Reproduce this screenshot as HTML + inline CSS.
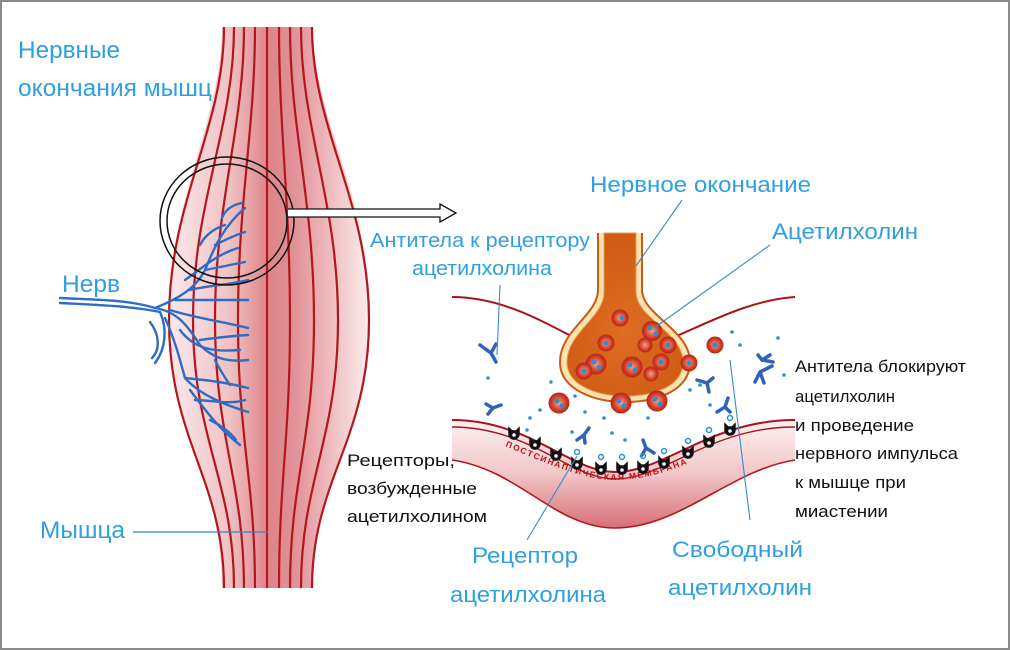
<!DOCTYPE html>
<html><head><meta charset="utf-8"><style>
html,body{margin:0;padding:0;background:#fff}
svg{display:block}
.b{fill:#2e9fe2;font-family:"Liberation Sans Narrow","Liberation Sans",sans-serif}
.k{fill:#111;font-family:"Liberation Sans Narrow","Liberation Sans",sans-serif;font-size:17px}
</style></head><body>
<svg width="1010" height="650" viewBox="0 0 1010 650" xmlns="http://www.w3.org/2000/svg">
<defs>
<linearGradient id="mg" x1="0" x2="1" y1="0" y2="0">
<stop offset="0" stop-color="#fbe9ea"/><stop offset="0.3" stop-color="#f0c3c5"/>
<stop offset="0.5" stop-color="#dd8489"/><stop offset="0.62" stop-color="#e09096"/>
<stop offset="0.85" stop-color="#f2c8ca"/><stop offset="1" stop-color="#fbeeee"/>
</linearGradient>
<linearGradient id="pg" x1="0" x2="0" y1="0" y2="1">
<stop offset="0" stop-color="#fdf1f1"/><stop offset="0.5" stop-color="#f2c6c8"/><stop offset="1" stop-color="#d66f76"/>
</linearGradient>
<radialGradient id="og" cx="0.5" cy="0.6" r="0.6">
<stop offset="0" stop-color="#de6d22"/><stop offset="1" stop-color="#cf5a14"/>
</radialGradient>
<radialGradient id="vg" cx="0.5" cy="0.5" r="0.5">
<stop offset="0" stop-color="#f3a58a"/><stop offset="0.7" stop-color="#d23b26"/><stop offset="1" stop-color="#b52518"/>
</radialGradient>
<path id="mp" d="M505,446 C560,470 590,480 615,480 C650,480 690,466 735,440"/>
</defs>
<rect x="0" y="0" width="1010" height="650" fill="#fff"/>
<rect x="1" y="1" width="1008" height="648" fill="none" stroke="#8a8a8a" stroke-width="2"/>

<path d="M222,27 L313,27 C313,120 372,200 370,320 C368,430 313,480 313,588 L222,588 C222,480 168,420 168,320 C168,200 222,120 222,27 Z" fill="url(#mg)"/>
<g fill="none" stroke="#b3161c" stroke-width="2.2">
<path d="M224,27 C224,130 169,200 169,320 C169,440 224,480 224,588"/>
<path d="M234,27 C234,130 193,200 193,320 C193,440 234,480 234,588"/>
<path d="M244,27 C244,130 215,200 215,320 C215,440 244,480 244,588"/>
<path d="M255,27 C255,130 238,200 238,320 C238,440 255,480 255,588"/>
<path d="M267,27 L267,588"/>
<path d="M279,27 C279,130 290,200 290,320 C290,440 279,480 279,588"/>
<path d="M290,27 C290,130 314,200 314,320 C314,440 290,480 290,588"/>
<path d="M301,27 C301,130 338,200 338,320 C338,440 301,480 301,588"/>
<path d="M312,27 C312,130 369,200 369,320 C369,440 312,480 312,588"/>
</g>
<g fill="none" stroke="#2f6cc4" stroke-width="2.4" stroke-linecap="round">
<path d="M60,298 C100,300 130,300 155,308 C175,300 195,290 205,270 C215,245 225,225 245,208"/>
<path d="M60,303 C100,305 130,306 160,312"/>
<path d="M155,308 C180,312 190,330 200,345 C215,360 230,362 248,360"/>
<path d="M160,312 C168,330 165,350 155,363"/>
<path d="M165,318 C175,340 180,360 185,378 C200,395 225,405 248,412"/>
<path d="M150,322 C160,335 160,350 152,358"/>
<path d="M205,270 C215,268 230,265 245,262"/>
<path d="M215,245 C225,240 235,235 245,232"/>
<path d="M190,290 C210,285 230,285 248,280"/>
<path d="M175,300 C200,300 225,300 248,300"/>
<path d="M170,310 C195,318 225,322 248,328"/>
<path d="M200,340 C215,338 230,336 248,335"/>
<path d="M185,378 C205,380 225,382 248,388"/>
<path d="M190,390 C205,410 220,430 240,445"/>
<path d="M222,218 C225,210 232,205 242,203"/>
<path d="M200,245 C205,235 215,228 225,225"/>
<path d="M215,360 C220,370 225,378 230,385"/>
<path d="M180,330 C195,350 215,352 240,350"/>
<path d="M195,400 C210,400 230,405 245,400"/>
<path d="M210,420 C220,425 230,432 236,440"/>
<path d="M185,280 C200,270 215,255 238,248"/>
</g>
<ellipse cx="227" cy="221" rx="67" ry="64" fill="none" stroke="#111" stroke-width="1.5"/>
<ellipse cx="227" cy="221" rx="60" ry="57" fill="none" stroke="#111" stroke-width="1.5"/>
<path d="M288,209 L440,209 L440,204 L456,213 L440,222 L440,217 L288,217" fill="#fff" stroke="#111" stroke-width="1.3"/>

<text class="b" x="18" y="58" font-size="24" textLength="102" lengthAdjust="spacingAndGlyphs">Нервные</text>
<text class="b" x="18" y="96" font-size="24" textLength="194" lengthAdjust="spacingAndGlyphs">окончания мышц</text>
<text class="b" x="62" y="292" font-size="24" textLength="58" lengthAdjust="spacingAndGlyphs">Нерв</text>
<text class="b" x="40" y="538" font-size="24" textLength="85" lengthAdjust="spacingAndGlyphs">Мышца</text>
<line x1="133" y1="532" x2="268" y2="532" stroke="#3c7fc4" stroke-width="1.2"/>

<path d="M452,420 C530,420 570,472 615,472 C665,472 710,420 795,420 L795,460 C730,470 680,528 615,528 C555,528 520,470 452,460 Z" fill="url(#pg)"/>
<path d="M452,460 C520,470 555,528 615,528 C680,528 730,470 795,460" fill="none" stroke="#b3161c" stroke-width="1.6"/>
<path d="M452,420 C530,420 570,472 615,472 C665,472 710,420 795,420" fill="none" stroke="#a8141b" stroke-width="2"/>
<path d="M452,427 C530,427 570,479 615,479 C665,479 710,427 795,427" fill="none" stroke="#a8141b" stroke-width="1.4"/>
<text font-family="Liberation Sans,sans-serif" font-size="8.5" font-weight="bold" fill="#b3161c" letter-spacing="1.5"><textPath href="#mp">ПОСТСИНАПТИЧЕСКАЯ МЕМБРАНА</textPath></text>
<path d="M452,297 C500,297 540,320 575,338" fill="none" stroke="#a8141b" stroke-width="2"/>
<path d="M672,338 C710,322 750,300 795,297" fill="none" stroke="#a8141b" stroke-width="2"/>
<path d="M598,233 L598,290 C598,315 560,330 560,362 C560,390 595,402 625,402 C658,402 690,390 690,362 C690,330 642,315 642,290 L642,233" fill="#fbe2b0" stroke="#c95a14" stroke-width="2"/>
<path d="M604,233 L604,292 C604,318 567,332 567,362 C567,386 598,396 625,396 C655,396 683,386 683,362 C683,332 636,318 636,292 L636,233 Z" fill="url(#og)" stroke="#e2a34c" stroke-width="1"/>
<g fill="url(#vg)">
<circle cx="620" cy="318" r="8.5"/><circle cx="652" cy="331" r="10"/><circle cx="606" cy="343" r="8.5"/>
<circle cx="645" cy="345" r="7.5"/><circle cx="668" cy="345" r="8.5"/><circle cx="661" cy="362" r="8.5"/>
<circle cx="596" cy="364" r="10.5"/><circle cx="632" cy="367" r="10.5"/><circle cx="584" cy="371" r="8.5"/>
<circle cx="651" cy="374" r="7.5"/><circle cx="689" cy="363" r="8.5"/><circle cx="715" cy="345" r="8.5"/>
<circle cx="559" cy="403" r="10.5"/><circle cx="621" cy="403" r="10.5"/><circle cx="657" cy="401" r="10.5"/>
</g>
<g fill="#2e8fd0">
<circle cx="622" cy="318" r="2.5"/><circle cx="650" cy="328" r="2.5"/><circle cx="656" cy="334" r="2.5"/><circle cx="606" cy="343" r="2.5"/>
<circle cx="668" cy="345" r="2.5"/><circle cx="661" cy="362" r="2.5"/><circle cx="594" cy="362" r="2.5"/><circle cx="599" cy="367" r="2.5"/>
<circle cx="630" cy="365" r="2.5"/><circle cx="635" cy="370" r="2.5"/><circle cx="584" cy="371" r="2.5"/><circle cx="689" cy="363" r="2.5"/>
<circle cx="715" cy="345" r="2.5"/><circle cx="557" cy="401" r="2.5"/><circle cx="562" cy="406" r="2.5"/><circle cx="619" cy="401" r="2.5"/>
<circle cx="624" cy="406" r="2.5"/><circle cx="655" cy="399" r="2.5"/><circle cx="660" cy="404" r="2.5"/>
<circle cx="488" cy="378" r="1.8"/><circle cx="551" cy="382" r="1.8"/><circle cx="540" cy="410" r="1.8"/><circle cx="530" cy="418" r="1.8"/>
<circle cx="575" cy="396" r="1.8"/><circle cx="585" cy="412" r="1.8"/><circle cx="572" cy="432" r="1.8"/><circle cx="612" cy="433" r="1.8"/>
<circle cx="625" cy="440" r="1.8"/><circle cx="604" cy="418" r="1.8"/><circle cx="690" cy="390" r="1.8"/><circle cx="700" cy="385" r="1.8"/>
<circle cx="732" cy="332" r="1.8"/><circle cx="740" cy="345" r="1.8"/><circle cx="778" cy="338" r="1.8"/><circle cx="784" cy="375" r="1.8"/>
<circle cx="710" cy="405" r="1.8"/><circle cx="648" cy="418" r="1.8"/><circle cx="527" cy="430" r="1.8"/>
</g>
<g fill="none" stroke="#2f62b8" stroke-width="3.5" stroke-linecap="round">
<path d="M480,345 L491,353 L496,344 M491,353 L496,362"/>
<path d="M486,404 L493,408 L501,405 M493,408 L488,414"/>
<path d="M577,440 L584,435 L589,428 M584,435 L585,443"/>
<path d="M643,440 L646,448 L654,453 M646,448 L642,455"/>
<path d="M697,380 L707,383 L713,378 M707,383 L709,392"/>
<path d="M717,412 L725,407 L728,398 M725,407 L730,412"/>
<path d="M755,382 L760,372 M760,372 L772,366 M760,372 L764,383"/>
<path d="M770,355 L762,360 L758,355 M762,360 L773,362"/>
</g>
<g fill="#111" stroke="#111" stroke-width="1.5">
<path d="M509,428 l0,6 a5,5 0 0 0 10,0 l0,-6 l-3,3 l-4,0 z"/><path d="M530,438 l0,6 a5,5 0 0 0 10,0 l0,-6 l-3,3 l-4,0 z"/>
<path d="M551,449 l0,6 a5,5 0 0 0 10,0 l0,-6 l-3,3 l-4,0 z"/><path d="M572,458 l0,6 a5,5 0 0 0 10,0 l0,-6 l-3,3 l-4,0 z"/>
<path d="M596,463 l0,6 a5,5 0 0 0 10,0 l0,-6 l-3,3 l-4,0 z"/><path d="M617,463 l0,6 a5,5 0 0 0 10,0 l0,-6 l-3,3 l-4,0 z"/>
<path d="M638,462 l0,6 a5,5 0 0 0 10,0 l0,-6 l-3,3 l-4,0 z"/><path d="M659,457 l0,6 a5,5 0 0 0 10,0 l0,-6 l-3,3 l-4,0 z"/>
<path d="M683,447 l0,6 a5,5 0 0 0 10,0 l0,-6 l-3,3 l-4,0 z"/><path d="M704,436 l0,6 a5,5 0 0 0 10,0 l0,-6 l-3,3 l-4,0 z"/>
<path d="M725,424 l0,6 a5,5 0 0 0 10,0 l0,-6 l-3,3 l-4,0 z"/>
</g>
<g fill="#fff">
<circle cx="514" cy="435" r="1.8"/><circle cx="535" cy="445" r="1.8"/><circle cx="556" cy="456" r="1.8"/><circle cx="577" cy="465" r="1.8"/>
<circle cx="601" cy="470" r="1.8"/><circle cx="622" cy="470" r="1.8"/><circle cx="643" cy="469" r="1.8"/><circle cx="664" cy="464" r="1.8"/>
<circle cx="688" cy="454" r="1.8"/><circle cx="709" cy="443" r="1.8"/><circle cx="730" cy="431" r="1.8"/>
</g>
<g fill="none" stroke="#2e8fd0" stroke-width="1.5">
<circle cx="577" cy="452" r="2.5"/><circle cx="601" cy="457" r="2.5"/><circle cx="622" cy="457" r="2.5"/><circle cx="643" cy="456" r="2.5"/>
<circle cx="664" cy="451" r="2.5"/><circle cx="709" cy="430" r="2.5"/><circle cx="730" cy="418" r="2.5"/><circle cx="688" cy="441" r="2.5"/>
</g>
<g stroke="#3c8ac8" stroke-width="1.1">
<line x1="682" y1="200" x2="636" y2="266"/>
<line x1="770" y1="245" x2="654" y2="328"/>
<line x1="500" y1="285" x2="497" y2="355"/>
<line x1="527" y1="540" x2="577" y2="456"/>
<line x1="750" y1="520" x2="730" y2="360"/>
</g>
<text class="b" x="590" y="192" font-size="22" textLength="221" lengthAdjust="spacingAndGlyphs">Нервное окончание</text>
<text class="b" x="772" y="239" font-size="22" textLength="146" lengthAdjust="spacingAndGlyphs">Ацетилхолин</text>
<text class="b" x="370" y="247" font-size="20" textLength="220" lengthAdjust="spacingAndGlyphs">Антитела к рецептору</text>
<text class="b" x="412" y="275" font-size="20" textLength="140" lengthAdjust="spacingAndGlyphs">ацетилхолина</text>
<text class="b" x="472" y="563" font-size="22" textLength="106" lengthAdjust="spacingAndGlyphs">Рецептор</text>
<text class="b" x="450" y="602" font-size="22" textLength="156" lengthAdjust="spacingAndGlyphs">ацетилхолина</text>
<text class="b" x="672" y="557" font-size="22" textLength="131" lengthAdjust="spacingAndGlyphs">Свободный</text>
<text class="b" x="668" y="595" font-size="22" textLength="144" lengthAdjust="spacingAndGlyphs">ацетилхолин</text>
<text class="k" x="795" y="372" textLength="171" lengthAdjust="spacingAndGlyphs">Антитела блокируют</text>
<text class="k" x="795" y="402" textLength="100" lengthAdjust="spacingAndGlyphs">ацетилхолин</text>
<text class="k" x="795" y="431" textLength="119" lengthAdjust="spacingAndGlyphs">и проведение</text>
<text class="k" x="795" y="459" textLength="163" lengthAdjust="spacingAndGlyphs">нервного импульса</text>
<text class="k" x="795" y="488" textLength="111" lengthAdjust="spacingAndGlyphs">к мышце при</text>
<text class="k" x="795" y="517" textLength="93" lengthAdjust="spacingAndGlyphs">миастении</text>
<text class="k" x="347" y="466" textLength="108" lengthAdjust="spacingAndGlyphs">Рецепторы,</text>
<text class="k" x="347" y="494" textLength="130" lengthAdjust="spacingAndGlyphs">возбужденные</text>
<text class="k" x="347" y="522" textLength="140" lengthAdjust="spacingAndGlyphs">ацетилхолином</text>
</svg>
</body></html>
